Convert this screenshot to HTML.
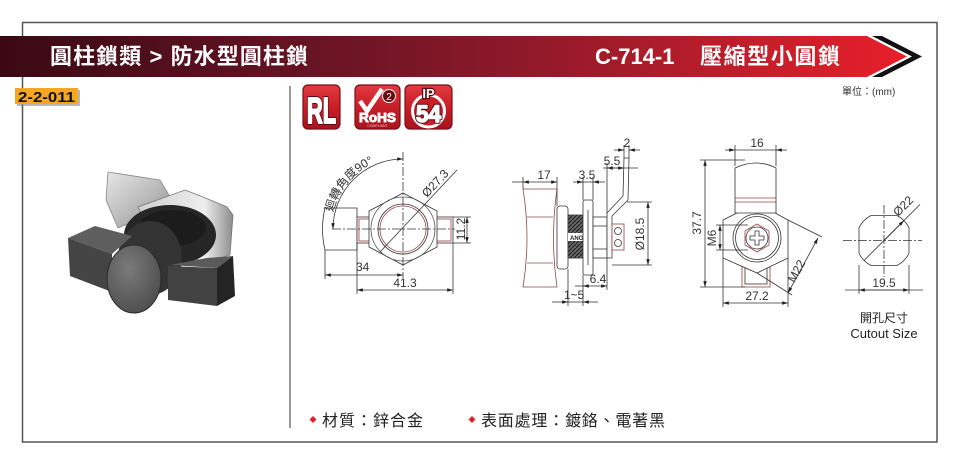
<!DOCTYPE html>
<html><head><meta charset="utf-8"><style>
html,body{margin:0;padding:0;background:#fff;}
svg{display:block;}
text{font-family:"Liberation Sans","Noto Sans CJK TC",sans-serif;}
</style></head><body>
<svg width="960" height="468" viewBox="0 0 960 468" xmlns="http://www.w3.org/2000/svg">
<defs>
<linearGradient id="bn" x1="0" y1="0" x2="910" y2="0" gradientUnits="userSpaceOnUse">
<stop offset="0" stop-color="#3a0913"/><stop offset="0.35" stop-color="#681424"/><stop offset="0.6" stop-color="#931a2a"/><stop offset="1" stop-color="#e8202a"/></linearGradient>
<marker id="ar" viewBox="0 0 10 6" refX="10" refY="3" markerWidth="7" markerHeight="3.5" markerUnits="userSpaceOnUse" orient="auto-start-reverse"><path d="M0,0 L10,3 L0,6 z" fill="#222"/></marker>
<linearGradient id="sil" x1="0" y1="0" x2="1" y2="1"><stop offset="0" stop-color="#e6e6e6"/><stop offset="0.5" stop-color="#bdbdbd"/><stop offset="1" stop-color="#8a8a8a"/></linearGradient>
<linearGradient id="sil2" x1="0" y1="0" x2="1" y2="0"><stop offset="0" stop-color="#d0d0d0"/><stop offset="0.7" stop-color="#eeeeee"/><stop offset="1" stop-color="#8c8c8c"/></linearGradient>
<radialGradient id="knob" cx="0.4" cy="0.35" r="0.75"><stop offset="0" stop-color="#7a7a7a"/><stop offset="1" stop-color="#4a4a4a"/></radialGradient>
<linearGradient id="icn" x1="0" y1="0" x2="0" y2="1"><stop offset="0" stop-color="#e23a40"/><stop offset="0.5" stop-color="#c81e28"/><stop offset="1" stop-color="#a8141e"/></linearGradient>
<pattern id="thr" width="4" height="4" patternUnits="userSpaceOnUse"><rect width="4" height="4" fill="#666"/><path d="M0,4 L4,0" stroke="#222" stroke-width="1.2"/></pattern>
</defs>

<!-- frame -->
<rect x="22.5" y="22.5" width="914.5" height="419.5" fill="none" stroke="#555" stroke-width="1.5"/>
<line x1="290" y1="86" x2="290" y2="428" stroke="#9a9a9a" stroke-width="2"/>

<!-- banner -->
<polygon points="0,36 867,36 907,56.5 867,77 0,77" fill="url(#bn)"/>
<polygon points="872,36 882,36 922,56.5 882,77 872,77 912,56.5" fill="#111"/>
<text x="50" y="64" font-size="22" font-weight="bold" fill="#fff" textLength="258">圓柱鎖類 &gt; 防水型圓柱鎖</text>
<text x="595" y="64" font-size="22" font-weight="bold" fill="#fff">C-714-1</text>
<text x="700" y="64" font-size="22" font-weight="bold" fill="#fff" textLength="140">壓縮型小圓鎖</text>
<text x="842" y="95" font-size="10" fill="#333">單位：(mm)</text>

<!-- badge -->
<rect x="17" y="90" width="63" height="16" fill="#888" opacity="0.6"/>
<rect x="15" y="88" width="63" height="16" fill="#f6a623"/>
<text x="18" y="102" font-size="15" font-weight="bold" fill="#111" textLength="57" lengthAdjust="spacingAndGlyphs">2-2-011</text>

<!-- icons -->
<rect x="303" y="85" width="37" height="44" rx="5" fill="url(#icn)" stroke="#7a0f16" stroke-width="1.2"/>
<text x="307" y="123" font-size="36" font-weight="bold" fill="#fff" stroke="#5a0a10" stroke-width="4" stroke-linejoin="round" textLength="29" lengthAdjust="spacingAndGlyphs">RL</text>
<text x="307" y="123" font-size="36" font-weight="bold" fill="#fff" stroke="#fff" stroke-width="2" stroke-linejoin="round" textLength="29" lengthAdjust="spacingAndGlyphs">RL</text>
<rect x="355" y="85" width="45" height="44" rx="5" fill="url(#icn)" stroke="#7a0f16" stroke-width="1.2"/>
<path d="M360,101 L367,111 L382,89" fill="none" stroke="#fff" stroke-width="4.5"/>
<circle cx="389" cy="96" r="6.5" fill="#6a0a10" stroke="#fff" stroke-width="1"/>
<text x="389" y="100" font-size="10" fill="#fff" text-anchor="middle">2</text>
<text x="359" y="122" font-size="13" font-weight="bold" fill="#fff" stroke="#fff" stroke-width="0.9" textLength="37" lengthAdjust="spacingAndGlyphs">RoHS</text>
<text x="377.5" y="127" font-size="3.5" fill="#f3c0c0" text-anchor="middle">COMPLIANT</text>
<rect x="405" y="85" width="47" height="44" rx="5" fill="url(#icn)" stroke="#7a0f16" stroke-width="1.2"/>
<circle cx="428.5" cy="111" r="16" fill="#c81e28" stroke="#fff" stroke-width="3"/>
<text x="428.5" y="122" font-size="24" font-weight="bold" fill="#fff" stroke="#5a0a10" stroke-width="3.5" stroke-linejoin="round" text-anchor="middle" textLength="25" lengthAdjust="spacingAndGlyphs">54</text>
<text x="428.5" y="122" font-size="24" font-weight="bold" fill="#fff" stroke="#fff" stroke-width="1.5" stroke-linejoin="round" text-anchor="middle" textLength="25" lengthAdjust="spacingAndGlyphs">54</text>
<text x="428.5" y="98" font-size="13" font-weight="bold" fill="#fff" stroke="#5a0a10" stroke-width="2.5" stroke-linejoin="round" text-anchor="middle">IP</text>
<text x="428.5" y="98" font-size="13" font-weight="bold" fill="#fff" text-anchor="middle">IP</text>

<!-- product photo -->
<polygon points="108,172 160,180 172,200 150,215 118,228 106,200" fill="url(#sil)" stroke="#888" stroke-width="0.8"/>
<polygon points="138,207 185,190 203,197 227,207 233,215 230,255 207,262 160,250" fill="url(#sil2)" stroke="#777" stroke-width="0.8"/>
<ellipse cx="170" cy="235" rx="46" ry="30" fill="#262626"/>
<ellipse cx="172" cy="228" rx="34" ry="18" fill="#1c1c1c"/>
<ellipse cx="150" cy="258" rx="32" ry="37" fill="#333"/>
<polygon points="68,238 95,226 132,236 112,254" fill="#5e5e5e"/>
<polygon points="68,238 112,254 112,292 70,276" fill="#444"/>
<polygon points="170,265 207,258 233,256 217,268" fill="#5a5a5a"/>
<polygon points="168,266 217,268 217,306 168,300" fill="#424242"/>
<polygon points="217,268 233,256 235,296 217,306" fill="#242424"/>
<ellipse cx="134" cy="279" rx="27" ry="34" fill="url(#knob)" stroke="#2a2a2a" stroke-width="1"/>

<!-- ===== Drawing 1 ===== -->
<g fill="none" stroke="#333" stroke-width="0.8">
<path d="M325,208 L357,208 L357,250 L325,250 Q320,229 325,208 Z" fill="#fff"/>
<rect x="357" y="217" width="96" height="26" fill="#fff"/>
<rect x="359" y="219" width="92" height="22" stroke="#9b4040"/>
<polygon points="403,193 437,211 437,247 403,265 369,247 369,211" fill="#fff"/>
<circle cx="403" cy="229" r="32" stroke="#555"/>
<circle cx="403" cy="229" r="25" fill="#fff" stroke="#333"/>
<circle cx="403" cy="229" r="23" stroke="#9b4040"/>
<line x1="403" y1="152" x2="403" y2="278" stroke-dasharray="9 2 2 2"/>
<line x1="332" y1="229" x2="455" y2="229" stroke-dasharray="9 2 2 2"/>
<path d="M333,229 A70,70 0 0 1 403,159" marker-start="url(#ar)" marker-end="url(#ar)"/>
<line x1="380" y1="252" x2="457" y2="170"/>
<line x1="325" y1="250" x2="325" y2="279"/>
<line x1="357" y1="243" x2="357" y2="294"/>
<line x1="453" y1="243" x2="453" y2="294"/>
<line x1="325" y1="275" x2="403" y2="275" marker-start="url(#ar)" marker-end="url(#ar)"/>
<line x1="357" y1="290" x2="453" y2="290" marker-start="url(#ar)" marker-end="url(#ar)"/>
<line x1="453" y1="217" x2="471" y2="217"/>
<line x1="453" y1="243" x2="471" y2="243"/>
<line x1="467" y1="217" x2="467" y2="243" marker-start="url(#ar)" marker-end="url(#ar)"/>
</g>
<path id="arcp" d="M332.1,216.5 A72,72 0 0 1 403,157" fill="none"/>
<text font-size="12" fill="#333"><textPath href="#arcp" startOffset="4">迴轉角度90°</textPath></text>
<text x="356" y="271" font-size="12" fill="#333">34</text>
<text x="405" y="287" font-size="12" fill="#333" text-anchor="middle">41.3</text>
<text transform="translate(465,229) rotate(-90)" font-size="12" fill="#333" text-anchor="middle">11.2</text>
<text transform="translate(427,198) rotate(-47)" font-size="12" fill="#333">Ø27.3</text>

<!-- ===== Drawing 2 ===== -->
<g fill="none" stroke="#333" stroke-width="0.8">
<path d="M523,189 L557,189 Q550,238 557,287 L523,287 Q531,238 523,189 Z" fill="#fff" stroke="#8a4a4a"/>
<line x1="527" y1="217" x2="553" y2="217" stroke="#8a4a4a"/>
<line x1="527" y1="263" x2="553" y2="263" stroke="#8a4a4a"/>
<rect x="557" y="206" width="11" height="63" rx="3" fill="#fff"/>
<rect x="568" y="215" width="16" height="43" fill="url(#thr)"/>
<rect x="568" y="233" width="16" height="8" fill="#fff" stroke="none"/>
<rect x="583" y="200" width="10" height="75" rx="2" fill="#fff"/>
<line x1="588" y1="210" x2="588" y2="265"/>
<rect x="593" y="217" width="14" height="41" fill="#fff"/>
<line x1="593" y1="226" x2="607" y2="226"/>
<line x1="593" y1="249" x2="607" y2="249"/>
<path d="M607,258 L607,213 L623,196 L624,158 L629,158 L628,200 L612,216 L612,258 Z" fill="#fff"/>
<rect x="612" y="224" width="12" height="26" fill="#fff" stroke="#9b4040"/>
<circle cx="618" cy="231" r="3.5"/><circle cx="618" cy="243" r="3.5"/>
<line x1="523" y1="177" x2="523" y2="189"/>
<line x1="557" y1="177" x2="557" y2="206"/>
<line x1="512" y1="182" x2="523" y2="182"/>
<line x1="523" y1="182" x2="557" y2="182" marker-start="url(#ar)" marker-end="url(#ar)"/>
<line x1="583" y1="177" x2="583" y2="200"/>
<line x1="593" y1="177" x2="593" y2="200"/>
<line x1="573" y1="182" x2="583" y2="182" marker-end="url(#ar)"/>
<line x1="605" y1="182" x2="593" y2="182" marker-end="url(#ar)"/>
<line x1="583" y1="182" x2="593" y2="182"/>
<line x1="607" y1="163" x2="607" y2="213"/>
<line x1="603" y1="168" x2="638" y2="168"/>
<line x1="607" y1="168" x2="624" y2="168" marker-start="url(#ar)" marker-end="url(#ar)"/>
<line x1="624" y1="145" x2="624" y2="158"/>
<line x1="629" y1="145" x2="629" y2="158"/>
<line x1="614" y1="150" x2="624" y2="150" marker-end="url(#ar)"/>
<line x1="640" y1="150" x2="629" y2="150" marker-end="url(#ar)"/>
<line x1="627" y1="202" x2="652" y2="202"/>
<line x1="612" y1="265" x2="652" y2="265"/>
<line x1="648" y1="202" x2="648" y2="265" marker-start="url(#ar)" marker-end="url(#ar)"/>
<line x1="583" y1="275" x2="583" y2="306"/>
<line x1="607" y1="258" x2="607" y2="290"/>
<line x1="575" y1="286" x2="583" y2="286"/>
<line x1="583" y1="286" x2="607" y2="286" marker-start="url(#ar)" marker-end="url(#ar)"/>
<line x1="568" y1="269" x2="568" y2="306"/>
<line x1="552" y1="302" x2="568" y2="302" marker-end="url(#ar)"/>
<line x1="598" y1="302" x2="583" y2="302" marker-end="url(#ar)"/>
<line x1="568" y1="302" x2="583" y2="302"/>
</g>
<text x="570" y="240" font-size="6" font-weight="bold" fill="#222">ANG</text>
<text x="544" y="179" font-size="12" fill="#333" text-anchor="middle">17</text>
<text x="587" y="179" font-size="12" fill="#333" text-anchor="middle">3.5</text>
<text x="612" y="165" font-size="12" fill="#333" text-anchor="middle">5.5</text>
<text x="627" y="147" font-size="12" fill="#333" text-anchor="middle">2</text>
<text transform="translate(644,234) rotate(-90)" font-size="12" fill="#333" text-anchor="middle">Ø18.5</text>
<text x="598" y="283" font-size="12" fill="#333" text-anchor="middle">6.4</text>
<text x="574" y="299" font-size="12" fill="#333" text-anchor="middle">1~5</text>

<!-- ===== Drawing 3 ===== -->
<g fill="none" stroke="#333" stroke-width="0.8">
<rect x="742" y="262" width="28" height="25" fill="#fff" stroke="#9b4040"/>
<rect x="745" y="265" width="22" height="19" stroke="#333"/>
<polygon points="723,220 757,203 788,220 788,258 757,273 723,258" fill="#fff"/>
<circle cx="757" cy="238" r="24"/>
<circle cx="757" cy="238" r="21.5"/>
<polygon points="757,224 769,231 769,245 757,252 745,245 745,231" fill="#fff" stroke="#9b4040"/>
<circle cx="757" cy="238" r="11" stroke="#333"/>
<path d="M755,231 h4 v5 h5 v4 h-5 v5 h-4 v-5 h-5 v-4 h5 z" fill="#fff"/>
<path d="M735,213 L735,168 Q756,158 776,168 L776,213" fill="#fff"/>
<line x1="735" y1="198" x2="776" y2="198" stroke="#9b4040"/>
<line x1="735" y1="202" x2="776" y2="202" stroke="#9b4040"/>
<line x1="735" y1="213" x2="776" y2="213"/>
<line x1="735" y1="145" x2="735" y2="166"/>
<line x1="776" y1="145" x2="776" y2="166"/>
<line x1="725" y1="150" x2="735" y2="150" marker-end="url(#ar)"/>
<line x1="787" y1="150" x2="776" y2="150" marker-end="url(#ar)"/>
<line x1="735" y1="150" x2="776" y2="150"/>
<line x1="700" y1="160" x2="745" y2="160"/>
<line x1="700" y1="287" x2="745" y2="287"/>
<line x1="705" y1="160" x2="705" y2="287" marker-start="url(#ar)" marker-end="url(#ar)"/>
<line x1="716" y1="225" x2="748" y2="225"/>
<line x1="716" y1="250" x2="748" y2="250"/>
<line x1="720" y1="225" x2="720" y2="250" marker-start="url(#ar)" marker-end="url(#ar)"/>
<line x1="723" y1="258" x2="723" y2="307"/>
<line x1="788" y1="258" x2="788" y2="307"/>
<line x1="723" y1="303" x2="788" y2="303" marker-start="url(#ar)" marker-end="url(#ar)"/>
<line x1="788" y1="220" x2="822" y2="237"/>
<line x1="757" y1="273" x2="792" y2="295"/>
<line x1="818" y1="238" x2="788" y2="293" marker-start="url(#ar)" marker-end="url(#ar)"/>
</g>
<text x="757" y="147" font-size="12" fill="#333" text-anchor="middle">16</text>
<text transform="translate(701,223) rotate(-90)" font-size="12" fill="#333" text-anchor="middle">37.7</text>
<text transform="translate(716,238) rotate(-90)" font-size="12" fill="#333" text-anchor="middle">M6</text>
<text x="757" y="300" font-size="12" fill="#333" text-anchor="middle">27.2</text>
<text transform="translate(800,273) rotate(-61)" font-size="12" fill="#333" text-anchor="middle">M22</text>

<!-- ===== Drawing 4 ===== -->
<g fill="none" stroke="#333" stroke-width="0.8">
<path d="M871,215.5 L897,215.5 A28.2,28.2 0 0 1 909,227.5 L909,253.5 A28.2,28.2 0 0 1 897,265.5 L871,265.5 A28.2,28.2 0 0 1 859,253.5 L859,227.5 A28.2,28.2 0 0 1 871,215.5 Z"/>
<line x1="843" y1="240.5" x2="922" y2="240.5" stroke-dasharray="9 2 2 2"/>
<line x1="884" y1="205" x2="884" y2="277" stroke-dasharray="9 2 2 2"/>
<line x1="864" y1="260.5" x2="920" y2="204.5"/>
<line x1="884" y1="240.5" x2="904" y2="220.5" marker-end="url(#ar)"/>
<line x1="859" y1="265" x2="859" y2="294"/>
<line x1="909" y1="265" x2="909" y2="294"/>
<line x1="845" y1="290" x2="923" y2="290"/>
<line x1="859" y1="290" x2="909" y2="290" marker-start="url(#ar)" marker-end="url(#ar)"/>
</g>
<text transform="translate(898,217) rotate(-45)" font-size="12" fill="#333">Ø22</text>
<text x="884" y="287" font-size="12" fill="#333" text-anchor="middle">19.5</text>
<text x="884" y="322" font-size="12" fill="#222" text-anchor="middle">開孔尺寸</text>
<text x="884" y="338" font-size="13" fill="#222" text-anchor="middle">Cutout Size</text>

<!-- bottom text -->
<polygon points="313,416 316.5,419.5 313,423 309.5,419.5" fill="#e3202a"/>
<text x="322" y="426" font-size="16" fill="#222" textLength="101">材質：鋅合金</text>
<polygon points="472,416 475.5,419.5 472,423 468.5,419.5" fill="#e3202a"/>
<text x="481" y="426" font-size="16" fill="#222" textLength="184">表面處理：鍍鉻、電著黑</text>
</svg>
</body></html>
